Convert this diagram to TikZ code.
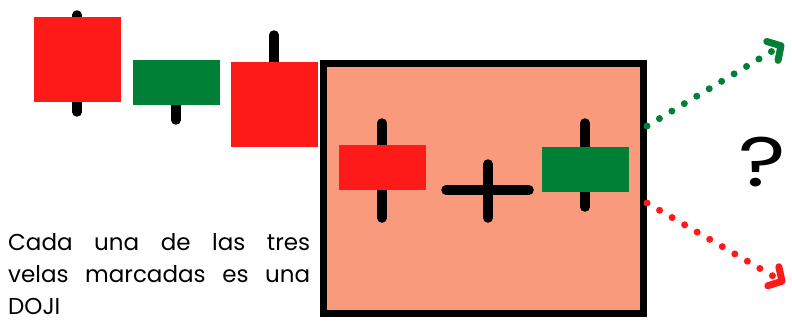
\documentclass[tikz,border=0pt]{standalone}
\usepackage{fontspec}
\setmainfont{Poppins}
\usetikzlibrary{arrows.meta}
\definecolor{rojovela}{RGB}{255,26,26}
\definecolor{verdevela}{RGB}{0,128,55}
\definecolor{salmon}{RGB}{250,154,124}
\begin{document}
\begin{tikzpicture}[%
x=1pt, y=-1pt,
mecha/.style={line width=9.5pt, line cap=round, black},
cuerpo/.style={fill=#1, draw=none},
flecha/.style={#1, line width=7pt, line cap=round, dash pattern=on 0pt off 14.5pt,
  -{Straight Barb[length=10pt, width=22pt, line width=7pt, round]}},
]
\useasboundingbox (0,0) rectangle (792,321);
%% first candles;
\draw [mecha] (77,15) -- (77,112);
\fill [cuerpo=rojovela] (34,17) rectangle (121,102);
\draw [mecha] (176,100) -- (176,120);
\fill [cuerpo=verdevela] (133,60) rectangle (220,105);
\draw [mecha] (274,35) -- (274,100);
\fill [cuerpo=rojovela] (231,62) rectangle (318,147);
%% box;
\node [draw=black, line width=7pt, fill=salmon, inner sep=0pt,
  minimum width=320pt, minimum height=249.5pt] (caja) at (483.5,188.25) {};
%% candle in box;
\draw [mecha] (382,123) -- (382,218);
\fill [cuerpo=rojovela] (339,145) rectangle (426,190);
%% plus;
\draw [mecha] (446,190) -- (529,190);
\draw [mecha] (488,164) -- (488,218);
%% candle in box;
\draw [mecha] (585,123) -- (585,207);
\fill [cuerpo=verdevela] (542,147) rectangle (629,192);
%% arrows;
\coordinate (subida) at (647,126);
\coordinate (bajada) at (647,203);
\coordinate (alza) at (784,44);
\coordinate (baja) at (785,283);
\draw [flecha=verdevela] (subida) -- (alza);
\draw [flecha=rojovela] (bajada) -- (baja);
%% label;
\node [font=\fontsize{70}{70}\selectfont, inner sep=0pt] (duda) at (762,162)
  {\scalebox{1.3}[1]{?}};
%% label;
\node [anchor=base west, inner sep=0pt, align=left,
  font=\fontsize{23}{32}\selectfont] (nota) at (8,314)
  {\makebox[302pt][s]{Cada una de las tres}\\
   \makebox[302pt][s]{velas marcadas es una}\\
   DOJI};
\end{tikzpicture}
\end{document}
